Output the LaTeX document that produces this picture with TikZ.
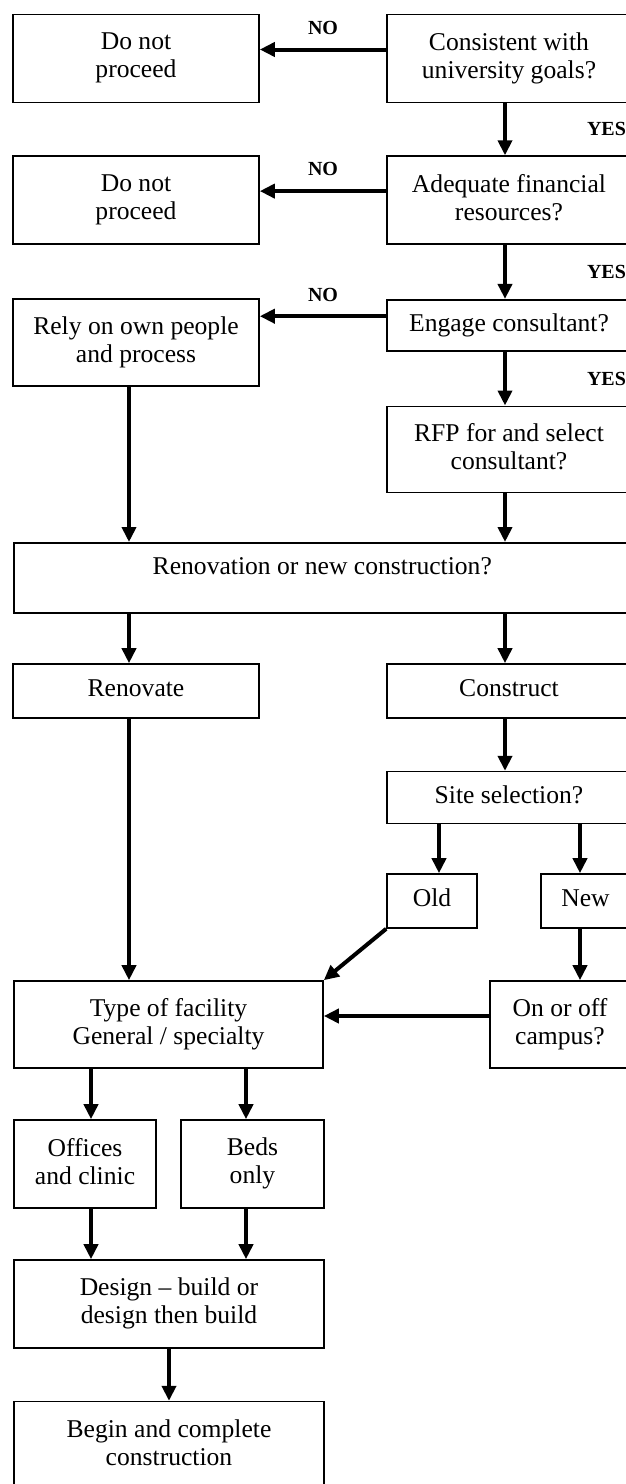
\documentclass[tikz,border=0pt]{standalone}
\usepackage{fontspec}
\setmainfont{Liberation Serif}
\usetikzlibrary{arrows.meta, positioning}

\begin{document}
\begin{tikzpicture}[
    x=1pt, y=1pt,
    box/.style={draw, line width=0.8pt, align=center, inner sep=2pt, minimum width=123pt, minimum height=44pt, text depth=3pt, font=\fontsize{12.8}{14}\selectfont},
    rbox/.style={box, minimum width=122pt},
    arr/.style={draw, line width=2pt, -{Triangle[length=7.5pt, width=7pt]}},
    lbl/.style={font=\fontsize{10}{12}\selectfont\bfseries, inner sep=1pt}
]
    \useasboundingbox (0,0) rectangle (313,-742);

    % Decisions on the right
    \node[rbox] (goals) at (254.5,-29.25) {Consistent with\\university goals?};
    \node[rbox, below=26pt of goals] (finance) {Adequate financial\\resources?};
    \node[rbox, minimum height=25.5pt, below=27pt of finance] (engage) {Engage consultant?};
    \node[rbox, minimum height=43pt, below=27pt of engage] (rfp) {RFP for and select\\consultant?};

    % Outcomes on the left
    \node[box] (stop1) at (68,-29.25) {Do not\\proceed};
    \node[box, below=26pt of stop1] (stop2) {Do not\\proceed};
    \node[box, minimum height=43.5pt, below=26.5pt of stop2] (own) {Rely on own people\\and process};

    % Building choice
    \node[box, anchor=north west, minimum width=308.5pt, minimum height=35pt, text depth=12pt] (reno) at (6.5,-271) {Renovation or new construction?};
    \node[box, minimum height=27pt] (renov) at (68,-345.5) {Renovate};
    \node[rbox, minimum height=27pt] (constr) at (254.5,-345.5) {Construct};
    \node[rbox, minimum height=26pt, below=26pt of constr] (site) {Site selection?};
    \node[box, minimum width=45pt, minimum height=27pt] (old) at (216,-450.5) {Old};
    \node[box, minimum width=44.5pt, minimum height=27pt] (new) at (292.75,-450.5) {New};
    \node[box, minimum width=154.5pt, minimum height=43.5pt] (type) at (84.25,-512.25) {Type of facility\\General / specialty};
    \node[box, minimum width=70pt, minimum height=43.5pt] (onoff) at (280,-512.25) {On or off\\campus?};
    \node[box, minimum width=71pt] (offices) at (42.5,-582) {Offices\\and clinic};
    \node[box, minimum width=71.5pt] (beds) at (126.25,-582) {Beds\\only};
    \node[box, minimum width=155pt] (design) at (84.5,-652) {Design -- build or\\design then build};
    \node[box, minimum width=155pt, below=26pt of design] (begin) {Begin and complete\\construction};

    % Column lines for the arrows
    \coordinate (lcol) at (64.5,0);
    \coordinate (rcol) at (252.5,0);
    \coordinate (oldcol) at (219.5,0);
    \coordinate (newcol) at (290,0);
    \coordinate (offcol) at (45.5,0);
    \coordinate (bedcol) at (123,0);
    \coordinate (no1) at ([yshift=4.5pt]goals.west);
    \coordinate (no2) at ([yshift=4.5pt]finance.west);
    \coordinate (no3) at ([yshift=4.5pt]engage.west);
    \coordinate (side) at ([yshift=4.25pt]onoff.west);

    % NO arrows
    \draw[arr] (no1) -- (no1 -| stop1.east) node[lbl, midway, above=5.5pt] {NO};
    \draw[arr] (no2) -- (no2 -| stop2.east) node[lbl, midway, above=5.5pt] {NO};
    \draw[arr] (no3) -- (no3 -| own.east) node[lbl, midway, above=5.5pt] {NO};

    % YES arrows
    \draw[arr] (goals.south -| rcol) -- (finance.north -| rcol) node[lbl, midway, right=39pt] {YES};
    \draw[arr] (finance.south -| rcol) -- (engage.north -| rcol) node[lbl, midway, right=39pt] {YES};
    \draw[arr] (engage.south -| rcol) -- (rfp.north -| rcol) node[lbl, midway, right=39pt] {YES};

    % Down the chart
    \draw[arr] (own.south -| lcol) -- (reno.north -| lcol);
    \draw[arr] (rfp.south -| rcol) -- (reno.north -| rcol);
    \draw[arr] (reno.south -| lcol) -- (renov.north -| lcol);
    \draw[arr] (reno.south -| rcol) -- (constr.north -| rcol);
    \draw[arr] (constr.south -| rcol) -- (site.north -| rcol);
    \draw[arr] (site.south -| oldcol) -- (old.north -| oldcol);
    \draw[arr] (site.south -| newcol) -- (new.north -| newcol);
    \draw[arr] (new.south -| newcol) -- (onoff.north -| newcol);
    \draw[arr] (renov.south -| lcol) -- (type.north -| lcol);
    \draw[arr] (old.south west) -- (type.north east);
    \draw[arr] (side) -- (side -| type.east);
    \draw[arr] (type.south -| offcol) -- (offices.north -| offcol);
    \draw[arr] (type.south -| bedcol) -- (beds.north -| bedcol);
    \draw[arr] (offices.south -| offcol) -- (design.north -| offcol);
    \draw[arr] (beds.south -| bedcol) -- (design.north -| bedcol);
    \draw[arr] (design) -- (begin);
\end{tikzpicture}
\end{document}
